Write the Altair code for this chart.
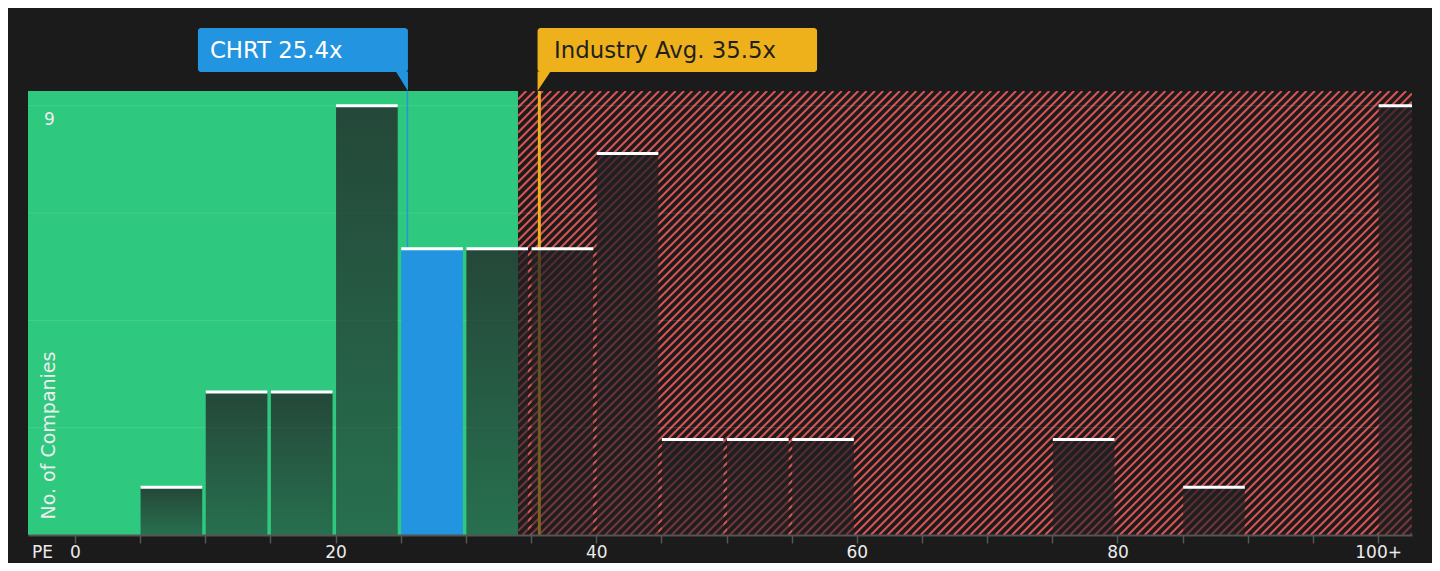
import altair as alt
import pandas as pd

# ---------------- data ----------------
bin_start = [5, 10, 15, 20, 25, 30, 35, 40, 45, 50, 55, 75, 85, 100]
counts = [1, 3, 3, 9, 6, 6, 6, 8, 2, 2, 2, 2, 1, 9]
BIN_WIDTH = 5
highlight_bin = 25

company_label = "CHRT 25.4x"
company_pe = 25.4
industry_label = "Industry Avg. 35.5x"
industry_pe = 35.5
fair_limit = 34.0

x_tick_values = list(range(0, 101, 5))
y_grid_values = [2.25, 4.5, 6.75, 9]
y_label_values = [9]

X_DOMAIN = [-3.6, 102.6]
Y_DOMAIN = [0, 9.31]

# ---------------- style ----------------
W, H = 1384, 444
BG = "#1b1b1b"
GREEN = "#2ec87e"
RED = "#d85353"
BLUE = "#2394e0"
ORANGE = "#efb11b"
TEXT = "#ececec"
FONT = "DejaVu Sans"

bars = pd.DataFrame({"start": bin_start, "count": counts})
bars["end"] = bars["start"] + BIN_WIDTH
bars["y0"] = 0

green_df = pd.DataFrame({"x0": [X_DOMAIN[0]], "x1": [fair_limit], "y0": [Y_DOMAIN[0]], "y1": [Y_DOMAIN[1]]})
grid_df = pd.DataFrame({"g": y_grid_values})
company_df = pd.DataFrame({"v": [company_pe], "label": [company_label]})
industry_df = pd.DataFrame({"v": [industry_pe], "label": [industry_label]})

# hatch lines (45 deg in screen space) covering the over-valued region
sx = W / (X_DOMAIN[1] - X_DOMAIN[0])
sy = H / (Y_DOMAIN[1] - Y_DOMAIN[0])
X0 = (fair_limit - X_DOMAIN[0]) * sx
spacing = 8.3
rows = []
c = X0 - H
while c < W:
    xs, ys = c, 0.0
    xe, ye = c + H, float(H)
    if xs < X0:
        ys = X0 - c
        xs = X0
    if xe > W:
        ye = W - c
        xe = W
    if ys < ye:
        rows.append({"hx": X_DOMAIN[0] + xs / sx, "hy": ys / sy,
                     "hx2": X_DOMAIN[0] + xe / sx, "hy2": ye / sy})
    c += spacing
hatch_df = pd.DataFrame(rows)

# ---------------- axes ----------------
x_scale = alt.Scale(domain=X_DOMAIN, nice=False, zero=False)
y_scale = alt.Scale(domain=Y_DOMAIN, nice=False, zero=False)

x_axis = alt.Axis(
    values=x_tick_values,
    labelExpr="datum.value == 100 ? '100+' : (datum.value % 20 == 0 ? datum.label : '')",
    grid=False, domainColor="#555555", domainWidth=2,
    tickColor="#555555", tickSize=8, tickWidth=1.5,
    labelColor=TEXT, labelFontSize=17, labelFont=FONT, labelPadding=1,
    labelBaseline="top", labelFlush=False, labelOverlap=False,
    title="PE", titleX=14, titleY=9, titleAlign="center", titleBaseline="top",
    titleFontSize=17, titleFontWeight="normal", titleColor=TEXT, titleFont=FONT,
    zindex=1,
)
y_axis = alt.Axis(
    values=y_label_values, labelExpr="datum.label",
    grid=False, domain=False, ticks=False, tickSize=0,
    labelAlign="center", labelPadding=-21, labelBaseline="top", labelOffset=6,
    labelColor=TEXT, labelFontSize=17, labelFont=FONT,
    labelOverlap=False, labelFlush=False,
    title="No. of Companies", titleAngle=270, titleX=20, titleY=428,
    titleAlign="left", titleBaseline="middle", titleFontSize=19,
    titleFontWeight="normal", titleColor=TEXT, titleFont=FONT,
    zindex=1,
)


def X(f):
    return alt.X(f"{f}:Q", scale=x_scale, axis=x_axis)


def Y(f):
    return alt.Y(f"{f}:Q", scale=y_scale, axis=y_axis)


bar_gradient = alt.LinearGradient(
    gradient="linear", x1=0, x2=0, y1=0, y2=1,
    stops=[alt.GradientStop(color="rgba(33,31,35,0.76)", offset=0),
           alt.GradientStop(color="rgba(33,31,35,0.52)", offset=1)],
)

green_layer = alt.Chart(green_df).mark_rect(color=GREEN).encode(
    x=X("x0"), x2="x1", y=Y("y0"), y2="y1")

hatch_layer = alt.Chart(hatch_df).mark_rule(color=RED, strokeWidth=2.1, clip=True).encode(
    x=X("hx"), x2="hx2", y=Y("hy"), y2="hy2")

grid_layer = alt.Chart(grid_df).mark_rule(color="white", opacity=0.12, strokeWidth=1).encode(
    y=Y("g"))

industry_line = alt.Chart(industry_df).mark_rule(color=ORANGE, strokeWidth=3, xOffset=1.8).encode(
    x=X("v"))
company_line = alt.Chart(company_df).mark_rule(color=BLUE, strokeWidth=1.5, xOffset=1.5).encode(
    x=X("v"))

bar_layer = alt.Chart(bars).transform_filter(
    f"datum.start != {highlight_bin}"
).mark_rect(fill=bar_gradient, clip=True, xOffset=0.5, x2Offset=-3).encode(
    x=X("start"), x2="end", y=Y("count"), y2="y0")

hl_layer = alt.Chart(bars).transform_filter(
    f"datum.start == {highlight_bin}"
).mark_rect(fill=BLUE, clip=True, xOffset=0.5, x2Offset=-3).encode(
    x=X("start"), x2="end", y=Y("count"), y2="y0")

cap_layer = alt.Chart(bars).mark_rule(color="white", strokeWidth=3, clip=True,
                                      xOffset=0.5, x2Offset=-3).encode(
    x=X("start"), x2="end", y=Y("count"))

company_box = alt.Chart(company_df).mark_rect(color=BLUE, cornerRadius=3, xOffset=-208, x2Offset=2).encode(
    x=X("v"), x2="v", y=alt.value(-63), y2=alt.value(-19))
company_ptr = alt.Chart(company_df).mark_point(
    shape="M -10 -19.5 L 2 -19.5 L 2 0 Z", size=4, filled=True, fill=BLUE, opacity=1, strokeWidth=0
).encode(x=X("v"), y=alt.value(0))
company_text = alt.Chart(company_df).mark_text(
    align="left", baseline="alphabetic", dx=-196, fontSize=22.8, font=FONT, color="white"
).encode(x=X("v"), y=alt.value(-33), text="label:N")

industry_box = alt.Chart(industry_df).mark_rect(color=ORANGE, cornerRadius=3, xOffset=0, x2Offset=279.5).encode(
    x=X("v"), x2="v", y=alt.value(-63), y2=alt.value(-19))
industry_ptr = alt.Chart(industry_df).mark_point(
    shape="M 0 -19.5 L 13 -19.5 L 0 0 Z", size=4, filled=True, fill=ORANGE, opacity=1, strokeWidth=0
).encode(x=X("v"), y=alt.value(0))
industry_text = alt.Chart(industry_df).mark_text(
    align="left", baseline="alphabetic", dx=16.5, fontSize=22.8, font=FONT, color="#1f1f1f"
).encode(x=X("v"), y=alt.value(-33), text="label:N")

chart = alt.layer(
    green_layer, hatch_layer, grid_layer, industry_line, company_line,
    bar_layer, hl_layer, cap_layer,
    company_box, company_ptr, company_text,
    industry_box, industry_ptr, industry_text,
).properties(
    width=W, height=H, background=BG,
    padding={"left": 20, "top": 83, "right": 20, "bottom": 28},
    autosize=alt.AutoSizeParams(type="none"),
).configure(font=FONT, view=alt.ViewConfig(stroke=None))

chart.save("out.html", embed_options={"renderer": "svg", "actions": False})
